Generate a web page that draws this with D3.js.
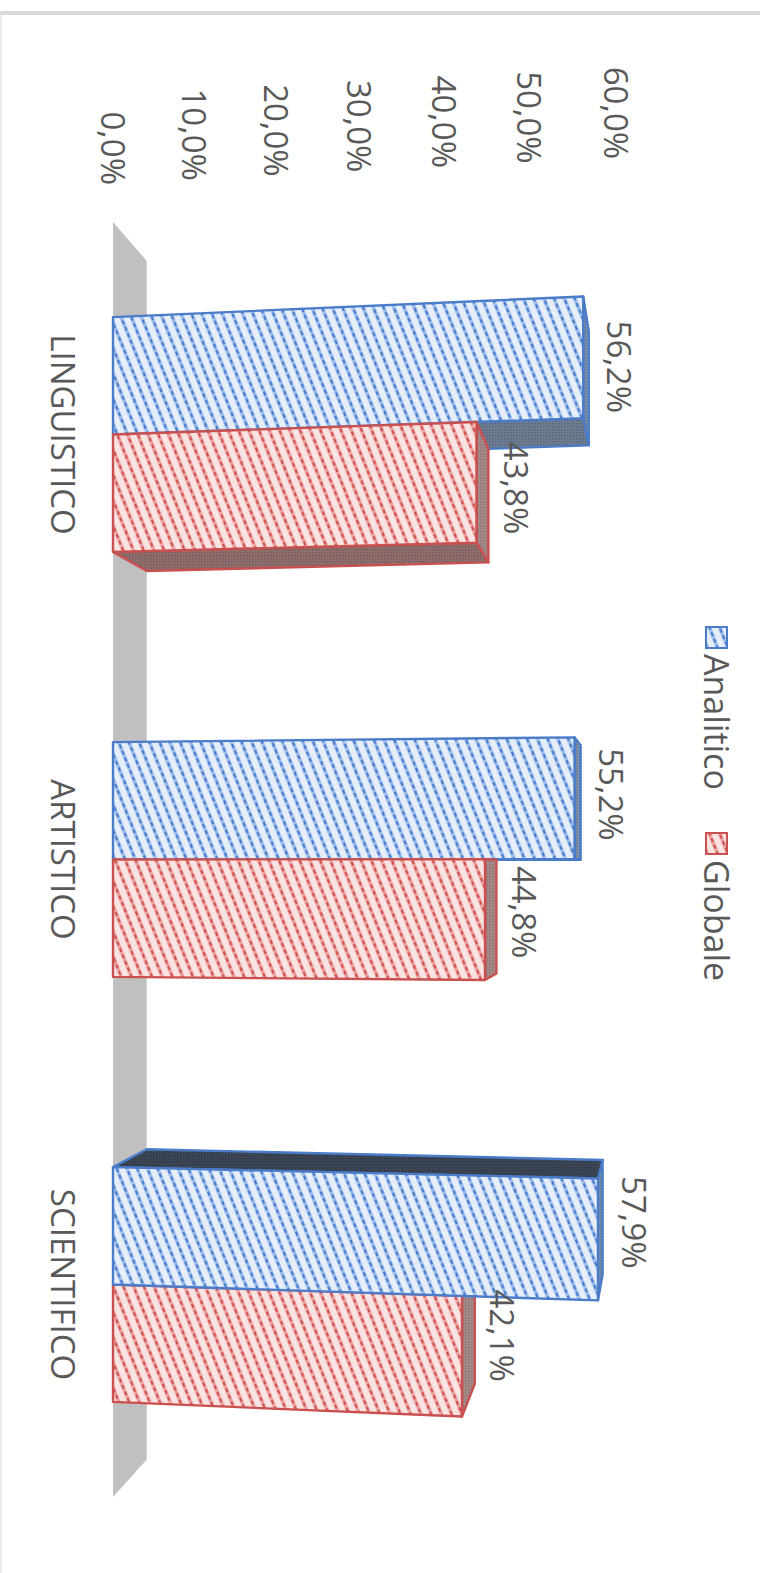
<!DOCTYPE html>
<html>
<head>
<meta charset="utf-8">
<script src="https://cdn.jsdelivr.net/npm/d3@7/dist/d3.min.js"></script>
<style>
  body { margin: 0; background: #fff; }
  svg { display: block; }
  text { font-family: "Open Sans", sans-serif; fill: #595959; }
</style>
</head>
<body>
<svg id="chart" width="760" height="1573"></svg>
<script>
// ---- data ----
const categories = ["LINGUISTICO", "ARTISTICO", "SCIENTIFICO"];
const seriesNames = ["Analitico", "Globale"];
const analitico = [56.2, 55.2, 57.9];
const globale = [43.8, 44.8, 42.1];
const valueTicks = [0, 10, 20, 30, 40, 50, 60];

const fmt = v => d3.format(".1f")(v).replace(".", ",") + "%";

const svg = d3.select("#chart");

// ---- frame ----
svg.append("rect").attr("x", 0).attr("y", 11).attr("width", 760).attr("height", 4).attr("fill", "#d9d9d9");
svg.append("line").attr("x1", 1).attr("x2", 1).attr("y1", 15).attr("y2", 1573)
  .attr("stroke", "#e2e2e2").attr("stroke-width", 1.5);

// ---- fill patterns ----
const defs = svg.append("defs");
function hatch(id, bg, light, dark) {
  const p = defs.append("pattern").attr("id", id)
    .attr("patternUnits", "userSpaceOnUse")
    .attr("width", 9.5).attr("height", 7)
    .attr("patternTransform", "rotate(-22)");
  p.append("rect").attr("width", 9.5).attr("height", 7).attr("fill", bg);
  p.append("line").attr("x1", 3).attr("x2", 3).attr("y1", 0).attr("y2", 7)
    .attr("stroke", light).attr("stroke-width", 3.6);
  p.append("line").attr("x1", 3).attr("x2", 3).attr("y1", 0).attr("y2", 7)
    .attr("stroke", dark).attr("stroke-width", 2).attr("stroke-dasharray", "4 3");
}
hatch("hatch-Analitico", "#e6eefa", "#9fbdea", "#4279cc");
hatch("hatch-Globale", "#f9e3e3", "#eba3a2", "#cf4d4b");

function shade(id, base, dot) {
  const p = defs.append("pattern").attr("id", id)
    .attr("patternUnits", "userSpaceOnUse")
    .attr("width", 3).attr("height", 3);
  p.append("rect").attr("width", 3).attr("height", 3).attr("fill", base);
  p.append("rect").attr("width", 1.5).attr("height", 1.5).attr("fill", dot);
}
shade("cap-Analitico", "#7f90a8", "#667892");
shade("side-Analitico", "#6e7d92", "#56657a");
shade("top-Analitico", "#3c4655", "#2c3542");
shade("cap-Globale", "#a58a8a", "#8e7272");
shade("side-Globale", "#8f6e6e", "#785a5a");

const seriesColor = { Analitico: "#4a7cc9", Globale: "#c9504e" };

// ---- scales & perspective projection ----
const valueScale = d3.scaleLinear().domain([0, 60]).range([0, 484]);
const tilt = d3.scaleLinear().domain([0, 60]).range([1, 0.9617]);
const catScale = d3.scaleBand().domain(categories).range([222, 1497]).paddingInner(0).paddingOuter(0);
const seriesScale = d3.scaleBand().domain(seriesNames).range([0, catScale.bandwidth()])
  .paddingInner(0).paddingOuter(0.81);

const originX = 113;
const horizon = 871;
const vp = [675, 870];
const depth = 0.06;

function project(u, v, z) {
  const w = tilt(v);
  const x = originX + valueScale(v) / w;
  const y = horizon + (u - horizon) / w;
  return [x + (vp[0] - x) * depth * z, y + (vp[1] - y) * depth * z];
}
const poly = pts => "M" + pts.map(p => p.join(",")).join("L") + "Z";

// ---- floor ----
const [u0f, u1f] = catScale.range();
svg.append("path")
  .attr("d", poly([project(u0f, 0, 0), project(u1f, 0, 0), project(u1f, 0, 1), project(u0f, 0, 1)]))
  .attr("fill", "#c0c0c0");

// ---- bars ----
const bars = [];
categories.forEach((c, i) => {
  [analitico, globale].forEach((vals, s) => {
    const name = seriesNames[s];
    const u0 = catScale(c) + seriesScale(name);
    const u1 = u0 + seriesScale.bandwidth();
    bars.push({ cat: c, name, u0, u1, v: vals[i] });
  });
});
// bars farther from the horizon are painted first
bars.sort((a, b) => Math.abs((b.u0 + b.u1) / 2 - horizon) - Math.abs((a.u0 + a.u1) / 2 - horizon));

const barLayer = svg.append("g");
bars.forEach(b => {
  const g = barLayer.append("g");
  const col = seriesColor[b.name];
  const style = sel => sel.attr("stroke", col).attr("stroke-width", 2.4).attr("stroke-linejoin", "round");
  // end cap
  g.append("path")
    .attr("d", poly([project(b.u0, b.v, 0), project(b.u1, b.v, 0), project(b.u1, b.v, 1), project(b.u0, b.v, 1)]))
    .attr("fill", `url(#cap-${b.name})`).call(style);
  // long side face facing the horizon
  if (b.u1 < horizon) {
    g.append("path")
      .attr("d", poly([project(b.u1, 0, 0), project(b.u1, b.v, 0), project(b.u1, b.v, 1), project(b.u1, 0, 1)]))
      .attr("fill", `url(#side-${b.name})`).call(style);
  } else if (b.u0 > horizon) {
    g.append("path")
      .attr("d", poly([project(b.u0, 0, 0), project(b.u0, b.v, 0), project(b.u0, b.v, 1), project(b.u0, 0, 1)]))
      .attr("fill", `url(#top-${b.name})`).call(style);
  }
  // front face
  g.append("path")
    .attr("d", poly([project(b.u0, 0, 0), project(b.u0, b.v, 0), project(b.u1, b.v, 0), project(b.u1, 0, 0)]))
    .attr("fill", `url(#hatch-${b.name})`).call(style);
});

// ---- data labels ----
svg.append("g").selectAll("text").data(bars).join("text")
  .attr("transform", b => {
    const [x, y] = project((b.u0 + b.u1) / 2, b.v, 0.5);
    return `translate(${x + 34},${y - 6}) rotate(90)`;
  })
  .attr("text-anchor", "middle")
  .attr("dominant-baseline", "central")
  .attr("font-size", 33)
  .text(b => fmt(b.v));

// ---- value axis labels ----
svg.append("g").selectAll("text").data(valueTicks).join("text")
  .attr("transform", v => {
    const [x, y] = project(u0f, v, 0);
    return `translate(${x},${y - 37}) rotate(90)`;
  })
  .attr("text-anchor", "end")
  .attr("dominant-baseline", "central")
  .attr("font-size", 33)
  .text(v => fmt(v));

// ---- category labels ----
svg.append("g").selectAll("text").data(categories).join("text")
  .attr("transform", c => `translate(63,${catScale(c) + catScale.bandwidth() / 2}) rotate(90)`)
  .attr("text-anchor", "middle")
  .attr("dominant-baseline", "central")
  .attr("font-size", 33)
  .text(c => c);

// ---- legend ----
const legendY = d3.scalePoint().domain(seriesNames).range([627, 833]);
const legend = svg.append("g").selectAll("g").data(seriesNames).join("g")
  .attr("transform", d => `translate(706,${legendY(d)})`);
legend.append("rect").attr("width", 21).attr("height", 21)
  .attr("fill", d => `url(#hatch-${d})`).attr("stroke", d => seriesColor[d]).attr("stroke-width", 2);
legend.append("text")
  .attr("transform", "translate(11,27) rotate(90)")
  .attr("dominant-baseline", "central")
  .attr("font-size", 34)
  .text(d => d);
</script>
</body>
</html>
